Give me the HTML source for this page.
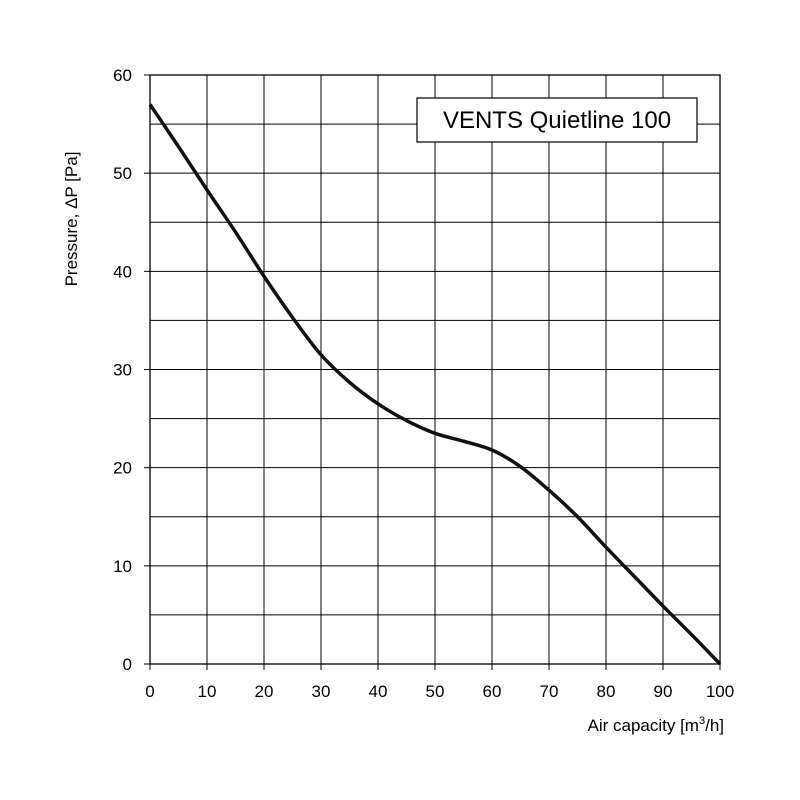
<!DOCTYPE html>
<html><head><meta charset="utf-8"><style>
body{margin:0;background:#fff;}
svg{display:block;font-family:"Liberation Sans",sans-serif;}
</style></head><body>
<svg id="chart" width="800" height="800"></svg>
<script>
const xTicks=[0,10,20,30,40,50,60,70,80,90,100];
const yTicks=[0,10,20,30,40,50,60];
const flowValues=[0,5,10,15,20,25,30,35,40,45,50,55,60,65,70,75,80,85,90,95,100];
const pressureValues=[57,52.7,48.3,44,39.5,35.3,31.5,28.7,26.5,24.8,23.5,22.7,21.8,20.1,17.7,15,11.9,8.9,5.9,3,0];
const X0=150,X1=720,Y0=664,Y1=75;
const xs=v=>X0+(v-0)/(100-0)*(X1-X0);
const ys=v=>Y0-(v-0)/(60-0)*(Y0-Y1);
const NS="http://www.w3.org/2000/svg";
const svg=document.getElementById('chart');
function mk(t,a,p){const e=document.createElementNS(NS,t);for(const k in a)e.setAttribute(k,a[k]);(p||svg).appendChild(e);return e;}
const grid=mk('g',{});


for(let v=0;v<=100;v+=10){if(v>0&&v<100)mk('line',{x1:xs(v),x2:xs(v),y1:Y1,y2:Y0,stroke:'#000','stroke-width':1},grid);}
for(let v=5;v<60;v+=5){mk('line',{x1:X0,x2:X1,y1:ys(v),y2:ys(v),stroke:'#000','stroke-width':1},grid);}
const frame=mk('rect',{x:X0,y:Y1,width:X1-X0,height:Y0-Y1,fill:'none',stroke:'#000','stroke-width':1.3});


xTicks.forEach(v=>{mk('line',{x1:xs(v),x2:xs(v),y1:Y0,y2:Y0+6,stroke:'#000'});
const t=mk('text',{x:xs(v),y:Y0+33,'text-anchor':'middle','font-size':17});t.textContent=v;

});
yTicks.forEach(v=>{mk('line',{x1:X0-6,x2:X0,y1:ys(v),y2:ys(v),stroke:'#000'});
const t=mk('text',{x:X0-18,y:ys(v)+6,'text-anchor':'end','font-size':17});t.textContent=v;

});
// curve (Catmull-Rom)
const P=flowValues.map((f,i)=>[xs(f),ys(pressureValues[i])]);
let d='M'+P[0][0]+','+P[0][1];
for(let i=0;i<P.length-1;i++){const p0=P[Math.max(0,i-1)],p1=P[i],p2=P[i+1],p3=P[Math.min(P.length-1,i+2)];
d+=` C${p1[0]+(p2[0]-p0[0])/6},${p1[1]+(p2[1]-p0[1])/6} ${p2[0]-(p3[0]-p1[0])/6},${p2[1]-(p3[1]-p1[1])/6} ${p2[0]},${p2[1]}`;}
const line=mk('path',{d:d,fill:'none',stroke:'#111','stroke-width':3.5,'stroke-linejoin':'round'});


</script>
<svg style="position:absolute;left:0;top:0" width="800" height="800">
<g>
<rect x="417" y="98" width="280" height="44" fill="#fff" stroke="#000" stroke-width="1.2"/>
<text x="557" y="128" text-anchor="middle" font-size="24" font-family="Liberation Sans,sans-serif">VENTS Quietline 100</text>
</g>
<text x="724" y="731" text-anchor="end" font-size="17" font-family="Liberation Sans,sans-serif">Air capacity [m<tspan dy="-7" font-size="11">3</tspan><tspan dy="7">/h]</tspan></text>
<text transform="translate(77,219) rotate(-90)" text-anchor="middle" font-size="17" font-family="Liberation Sans,sans-serif">Pressure, ΔP [Pa]</text>
</svg>
</body></html>
